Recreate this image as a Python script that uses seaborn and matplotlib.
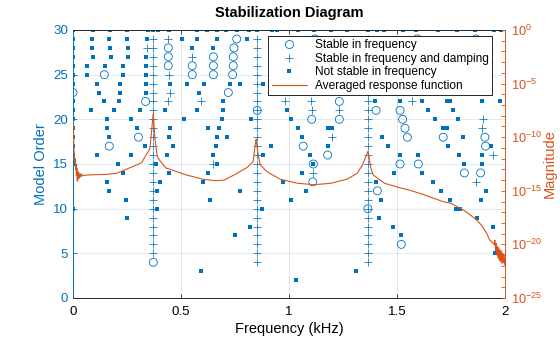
import numpy as np
import pandas as pd
import matplotlib
matplotlib.use("Agg")
import matplotlib.pyplot as plt
import seaborn as sns
from matplotlib.lines import Line2D
from matplotlib.ticker import FixedLocator, NullFormatter, LogFormatterSciNotation

# ---------------- data ----------------
# Stable in frequency (circles): model order -> frequencies (kHz)
stable_freq = {
    29: [0.758, 1.120, 1.594, 1.866],
    28: [0.441, 0.745],
    27: [0.441, 0.650, 0.742],
    26: [0.441, 0.552, 0.650, 0.742],
    25: [0.145, 0.552, 0.650, 0.739],
    23: [0.000, 0.719],
    22: [0.336, 1.233],
    21: [0.853, 1.403, 1.514],
    20: [1.105, 1.233, 1.526],
    19: [1.537],
    18: [0.303, 1.548, 1.714, 1.907],
    17: [0.168, 1.066, 1.910],
    16: [1.179],
    15: [1.113, 1.514, 1.599],
    14: [1.812, 1.887],
    13: [1.110],
    12: [1.409],
    10: [1.365],
    6: [1.520],
    4: [0.372],
}

# Stable in frequency and damping (plus signs)
stable_freq_damp = {
    29: [0.372, 0.441, 0.850, 1.365],
    28: [0.344, 0.372, 0.850, 1.365],
    27: [0.372, 0.552, 0.850, 1.365],
    26: [0.372, 0.850, 1.365],
    25: [0.372, 0.446, 0.850, 1.365],
    24: [0.372, 0.850, 1.365],
    23: [0.372, 0.449, 0.850, 1.365],
    22: [0.372, 0.441, 0.591, 0.850, 0.980, 1.103, 1.365, 1.568],
    21: [0.372, 0.850, 1.105, 1.233, 1.365],
    20: [0.372, 0.850, 1.365, 1.900],
    19: [0.372, 0.850, 1.365, 1.895],
    18: [0.372, 0.850, 1.200, 1.365],
    17: [0.372, 0.850, 1.365],
    16: [0.372, 0.850, 1.365, 1.946],
    15: [0.372, 0.648, 0.850, 1.365],
    14: [0.372, 0.850, 1.113, 1.365],
    13: [0.372, 0.850, 1.365, 1.867],
    12: [0.372, 0.850, 1.365],
    11: [0.372, 0.850, 1.365],
    10: [0.372, 0.850, 1.365],
    9: [0.372, 0.850, 1.365],
    8: [0.372, 0.850, 1.365],
    7: [0.372, 0.850, 1.365],
    6: [0.372, 0.850, 1.365],
    5: [0.372, 0.850, 1.365],
    4: [0.850, 1.365],
}

# Not stable in frequency (dots)
not_stable = {
    30: [0.000, 0.091, 0.173, 0.251, 0.349, 0.372, 0.395, 0.443, 0.574, 0.619,
         0.665, 0.710, 0.758, 0.815, 0.850, 0.923, 0.946, 1.040, 1.117, 1.194,
         1.270, 1.366, 1.406, 1.440, 1.528, 1.590, 1.690, 1.776, 1.862, 1.948, 1.980],
    29: [0.000, 0.089, 0.168, 0.248, 0.341, 0.506, 0.574, 0.665, 0.807],
    28: [0.000, 0.089, 0.171, 0.253, 0.552, 0.650],
    27: [0.000, 0.094, 0.176, 0.253, 0.336],
    26: [0.000, 0.066, 0.150, 0.230, 0.336],
    25: [0.000, 0.063, 0.230, 0.336],
    24: [0.000, 0.113, 0.218, 0.336, 0.449, 0.526, 0.606, 0.727, 0.773, 0.881],
    23: [0.122, 0.218, 0.336, 0.585],
    22: [0.000, 0.145, 0.215, 0.696, 1.398, 1.514, 1.614, 1.730, 1.745, 1.892, 1.977],
    21: [0.000, 0.085, 0.191, 0.310, 0.427, 0.572, 0.696, 0.992, 1.645, 1.761],
    20: [0.000, 0.159, 0.270, 0.515, 0.688, 0.824, 1.008, 1.676, 1.784],
    19: [0.000, 0.159, 0.298, 0.449, 0.627, 0.677, 1.043, 1.182, 1.198, 1.714, 1.730],
    18: [0.000, 0.168, 0.446, 0.668, 0.711, 1.059, 1.429, 1.807],
    17: [0.000, 0.335, 0.464, 0.660, 0.917, 1.182, 1.460, 1.737, 1.934],
    16: [0.000, 0.113, 0.270, 0.434, 0.650, 0.881, 1.097, 1.514, 1.595, 1.789, 1.892],
    15: [0.000, 0.210, 0.384, 0.665, 1.113, 1.812, 1.895],
    14: [0.233, 0.446, 0.626, 1.062, 1.485, 1.617],
    13: [0.159, 0.403, 0.603, 0.972, 1.404, 1.668],
    12: [0.168, 0.390, 0.773, 1.080, 1.705, 1.913],
    11: [0.245, 0.634, 1.011, 1.427, 1.747, 1.887],
    10: [0.000, 0.390, 0.876, 1.775, 1.793],
    9: [0.251, 1.417, 1.872],
    8: [0.819, 1.481, 1.944],
    7: [0.750, 1.520],
    5: [1.952],
    3: [0.593, 1.309],
    2: [1.033],
}

# Averaged response function: frequency (kHz) and log10(magnitude)
frf_khz = [0.000, 0.002, 0.004, 0.006, 0.008, 0.010, 0.012, 0.014, 0.016, 0.018,
           0.020, 0.022, 0.024, 0.027, 0.030, 0.034, 0.038, 0.043, 0.050, 0.063,
           0.100, 0.150, 0.202, 0.249, 0.295, 0.318, 0.340, 0.356, 0.364, 0.369,
           0.372, 0.375, 0.380, 0.390, 0.400, 0.430, 0.526, 0.603, 0.660, 0.700,
           0.745, 0.807, 0.834, 0.840, 0.845, 0.848, 0.852, 0.858, 0.867, 0.898,
           0.960, 1.040, 1.116, 1.193, 1.270, 1.316, 1.340, 1.352, 1.360, 1.366,
           1.371, 1.378, 1.389, 1.421, 1.443, 1.505, 1.560, 1.628, 1.714, 1.751,
           1.807, 1.829, 1.869, 1.890, 1.915, 1.929, 1.946, 1.950, 1.953, 1.956,
           1.959, 1.962, 1.965, 1.968, 1.971, 1.974, 1.977, 1.980, 1.983, 1.986,
           1.989, 1.992, 1.995, 1.998, 2.000]
frf_log10_mag = [-8.4, -9.6, -10.9, -11.6, -12.4, -12.0, -13.0, -12.6, -13.6, -12.9,
                 -14.1, -13.2, -13.9, -13.3, -13.8, -13.4, -13.7, -13.45, -13.6, -13.53,
                 -13.50, -13.48, -13.37, -12.97, -12.59, -12.37, -11.6, -11.1, -9.4, -8.3,
                 -7.8, -8.9, -10.26, -11.75, -12.13, -12.87, -13.53, -13.93, -14.06, -14.0,
                 -13.53, -12.81, -12.28, -11.3, -10.5, -10.2, -10.9, -11.7, -12.59, -13.22,
                 -13.93, -14.30, -14.43, -14.30, -13.90, -13.37, -12.59, -12.0, -11.6, -11.3,
                 -11.9, -12.8, -13.5, -14.0, -14.3, -14.67, -14.95, -15.39, -16.02, -16.17,
                 -16.79, -17.10, -17.72, -18.19, -18.96, -19.59, -19.9, -20.0, -19.6, -20.6,
                 -19.9, -21.0, -20.2, -21.3, -20.3, -21.5, -20.5, -21.6, -20.6, -21.8,
                 -20.8, -21.7, -20.9, -21.9, -21.2]

legend_labels = ["Stable in frequency", "Stable in frequency and damping",
                 "Not stable in frequency", "Averaged response function"]

# ---------------- style ----------------
BLUE = "#0072BD"
ORANGE = "#D95319"
DARK = "#262626"

sns.set_theme(style="white")
plt.rcParams["font.family"] = ["Liberation Sans", "DejaVu Sans"]
plt.rcParams["mathtext.fontset"] = "custom"
plt.rcParams["mathtext.rm"] = "Liberation Sans"
plt.rcParams["mathtext.it"] = "Liberation Sans:italic"
plt.rcParams["mathtext.bf"] = "Liberation Sans:bold"


def to_df(d):
    rows = [(f, n) for n, fs in d.items() for f in fs]
    return pd.DataFrame(rows, columns=["freq", "order"])


df_circ = to_df(stable_freq)
df_plus = to_df(stable_freq_damp)
df_dot = to_df(not_stable)
df_frf = pd.DataFrame({"freq": frf_khz, "mag": 10.0 ** np.array(frf_log10_mag)})

fig = plt.figure(figsize=(5.6, 3.37), dpi=100)
ax = fig.add_axes([73 / 560, 39 / 337, 432 / 560, 268 / 337])
ax2 = ax.twinx()

# markers
sns.scatterplot(data=df_circ, x="freq", y="order", marker="o", s=33,
                color=BLUE, edgecolor=BLUE, linewidth=0.6, ax=ax, legend=False)
ax.collections[-1].set_facecolor("none")
ax.collections[-1].set_edgecolor(BLUE)
sns.scatterplot(data=df_plus, x="freq", y="order", marker="+", s=30,
                color=BLUE, linewidth=0.55, ax=ax, legend=False)
sns.scatterplot(data=df_dot, x="freq", y="order", marker="s", s=5.5,
                color=BLUE, linewidth=0, ax=ax, legend=False)

# response function
sns.lineplot(data=df_frf, x="freq", y="mag", color=ORANGE, linewidth=0.8,
             ax=ax2, legend=False, errorbar=None)

# left axis
ax.set_xlim(0, 2)
ax.set_ylim(0, 30)
ax.set_xticks([0, 0.5, 1, 1.5, 2])
ax.set_xticklabels(["0", "0.5", "1", "1.5", "2"])
ax.set_yticks([0, 5, 10, 15, 20, 25, 30])
ax.set_axisbelow(True)
ax.grid(axis="y", color=BLUE, alpha=0.15, linewidth=0.6)
ax.grid(axis="x", color=DARK, alpha=0.15, linewidth=0.6)
ax.tick_params(axis="x", direction="in", top=True, bottom=True, length=3,
               width=0.6, colors=DARK, labelsize=9.6, pad=6, labelcolor="black")
ax.tick_params(axis="y", direction="in", left=True, right=False, length=3,
               width=0.6, colors=BLUE, labelsize=9.6, pad=3.5)
ax.set_xlabel("Frequency (kHz)", fontsize=10.5, color="black", labelpad=3)
ax.set_ylabel("Model Order", fontsize=10.5, color=BLUE, labelpad=4)
ax.set_title("Stabilization Diagram", fontsize=10.5, fontweight="bold",
             color="black", pad=9)
for side in ["top", "bottom"]:
    ax.spines[side].set_color(DARK)
    ax.spines[side].set_linewidth(0.7)
ax.spines["left"].set_color(BLUE)
ax.spines["left"].set_linewidth(0.7)
ax.spines["right"].set_visible(False)

# right axis
ax2.set_yscale("log")
ax2.set_ylim(1e-25, 1)
ax2.yaxis.set_major_locator(FixedLocator([10.0 ** -k for k in range(0, 30, 5)]))
ax2.yaxis.set_minor_locator(FixedLocator([10.0 ** -k for k in range(0, 26)]))
ax2.yaxis.set_major_formatter(LogFormatterSciNotation())
ax2.yaxis.set_minor_formatter(NullFormatter())
ax2.tick_params(axis="y", which="both", direction="in", length=3, width=0.6,
                colors=ORANGE, labelsize=9.2, pad=4)
ax2.set_ylabel("Magnitude", fontsize=10.5, color=ORANGE, labelpad=1)
ax2.set_xlim(0, 2)
for side in ["top", "bottom", "left"]:
    ax2.spines[side].set_visible(False)
ax2.spines["right"].set_color(ORANGE)
ax2.spines["right"].set_linewidth(0.7)

# legend
handles = [
    Line2D([], [], ls="none", marker="o", mfc="none", mec=BLUE, ms=5.8, mew=0.6),
    Line2D([], [], ls="none", marker="+", mec=BLUE, ms=5.8, mew=0.55),
    Line2D([], [], ls="none", marker="s", mfc=BLUE, mec=BLUE, ms=2.2, mew=0),
    Line2D([], [], color=ORANGE, lw=0.8),
]
leg = ax2.legend(handles, legend_labels, loc="upper right",
                 bbox_to_anchor=(0.970, 0.978), frameon=True, fancybox=False,
                 edgecolor="black", framealpha=1, fontsize=8.6, handlelength=2.9,
                 handletextpad=0.67, labelspacing=0.12, borderpad=0.3,
                 borderaxespad=0)
leg.get_frame().set_linewidth(0.6)
for t in leg.get_texts():
    t.set_color("black")

fig.savefig("out.png", dpi=100)
